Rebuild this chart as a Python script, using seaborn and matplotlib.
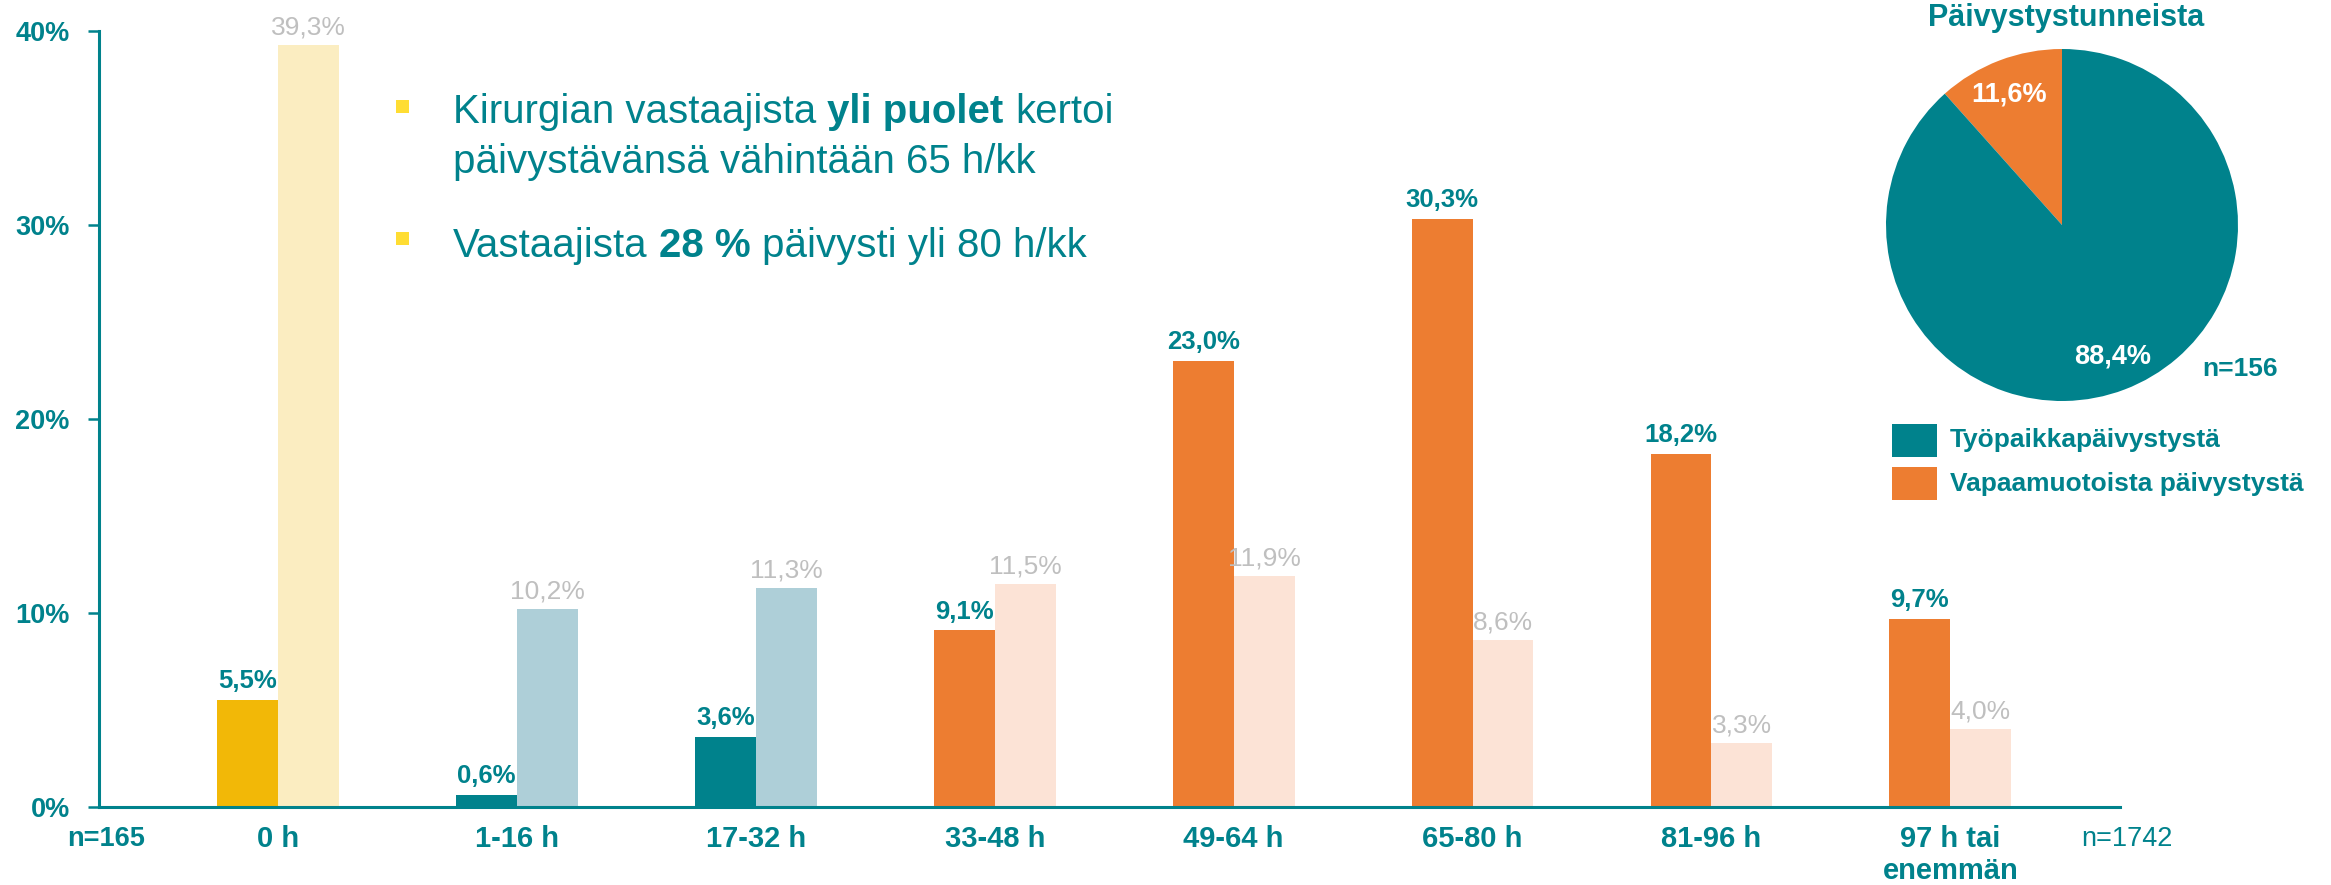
import matplotlib
matplotlib.use("Agg")
import matplotlib.pyplot as plt
import seaborn as sns
import pandas as pd
from matplotlib.patches import Rectangle

# ---------------- data ----------------
categories = ["0 h", "1-16 h", "17-32 h", "33-48 h", "49-64 h", "65-80 h", "81-96 h", "97 h tai\nenemmän"]
kirurgia = [5.5, 0.6, 3.6, 9.1, 23.0, 30.3, 18.2, 9.7]
muut = [39.3, 10.2, 11.3, 11.5, 11.9, 8.6, 3.3, 4.0]
series_names = ["Kirurgia", "Muut"]
yticks = [0, 10, 20, 30, 40]
ytick_labels = ["0%", "10%", "20%", "30%", "40%"]
pie_labels = ["Vapaamuotoista päivystystä", "Työpaikkapäivystystä"]
pie_values = [11.6, 88.4]
pie_title = "Päivystystunneista"
n_left = "n=165"
n_right = "n=1742"
n_pie = "n=156"

# ---------------- style ----------------
TEAL = "#00828C"
ORANGE = "#ED7D31"
YELLOW = "#F2B807"
LYELLOW = "#FBEDC1"
LBLUE = "#AECFD8"
PEACH = "#FCE3D6"
GRAY = "#BFBFBF"
BULLET = "#FFDD33"
dark_colors = [YELLOW, TEAL, TEAL] + [ORANGE] * 5
light_colors = [LYELLOW, LBLUE, LBLUE] + [PEACH] * 5

sns.set_theme(style="white")
plt.rcParams["font.family"] = ["Liberation Sans", "DejaVu Sans"]

W, H = 2331, 885
fig = plt.figure(figsize=(W / 100, H / 100), dpi=100)

# ---------------- bar chart ----------------
ax = fig.add_axes([99 / W, 1 - 807 / H, (2120 - 99) / W, (807 - 31) / H])
df = pd.DataFrame({
    "cat": categories * 2,
    "val": kirurgia + muut,
    "series": [series_names[0]] * len(categories) + [series_names[1]] * len(categories),
})
sns.barplot(data=df, x="cat", y="val", hue="series", hue_order=series_names,
            order=categories, width=0.51, ax=ax, legend=False,
            linewidth=0, saturation=1, errorbar=None)

for bar, c in zip(ax.containers[0], dark_colors):
    bar.set_facecolor(c)
for bar, c in zip(ax.containers[1], light_colors):
    bar.set_facecolor(c)

def fmt(v):
    return f"{v:.1f}%".replace(".", ",")

for bar, v in zip(ax.containers[0], kirurgia):
    ax.annotate(fmt(v), (bar.get_x() + bar.get_width() / 2, bar.get_height()),
                xytext=(0, 5), textcoords="offset points", ha="center", va="bottom",
                fontsize=18.5, fontweight="bold", color=TEAL, annotation_clip=False)
for bar, v in zip(ax.containers[1], muut):
    ax.annotate(fmt(v), (bar.get_x() + bar.get_width() / 2, bar.get_height()),
                xytext=(0, 4), textcoords="offset points", ha="center", va="bottom",
                fontsize=19, color=GRAY, annotation_clip=False)

ax.set_xlim(-0.749, 7.71)
ax.set_ylim(0, 40)
ax.set_yticks(yticks)
ax.set_yticklabels(ytick_labels)
ax.set_xlabel("")
ax.set_ylabel("")
for s in ["top", "right"]:
    ax.spines[s].set_visible(False)
for s in ["left", "bottom"]:
    ax.spines[s].set_color(TEAL)
    ax.spines[s].set_linewidth(2.2)
ax.tick_params(axis="y", direction="out", length=8, width=1.8, color=TEAL, pad=13,
               labelsize=19.5, labelcolor=TEAL, left=True)
ax.tick_params(axis="x", length=0, pad=13, labelsize=21, labelcolor=TEAL)
for lab in ax.get_yticklabels() + ax.get_xticklabels():
    lab.set_fontweight("bold")
for lab in ax.get_xticklabels():
    lab.set_linespacing(1.2)
ax.grid(False)

ax.text(-0.72, -0.025, n_left, transform=ax.get_xaxis_transform(), ha="center", va="top",
        fontsize=19.5, fontweight="bold", color=TEAL)
ax.text(7.74, -0.025, n_right, transform=ax.get_xaxis_transform(), ha="center", va="top",
        fontsize=19.5, color=TEAL)

# ---------------- bullet text ----------------
renderer = fig.canvas.get_renderer()
BFS = 29

def text_width(s, weight):
    t = fig.text(0, 0, s, fontsize=BFS, fontweight=weight)
    w = t.get_window_extent(renderer).width
    t.remove()
    return w

space_w = text_width("x x", "normal") - text_width("xx", "normal")

def draw_runs(x_px, y_px, runs):
    x = x_px
    for s, weight in runs:
        t = fig.text(x / W, 1 - y_px / H, s, fontsize=BFS, fontweight=weight,
                     color=TEAL, va="baseline", ha="left")
        x += t.get_window_extent(renderer).width + space_w

draw_runs(453, 123, [("Kirurgian vastaajista", "normal"), ("yli puolet", "bold"), ("kertoi", "normal")])
draw_runs(453, 173, [("päivystävänsä vähintään 65 h/kk", "normal")])
draw_runs(453, 257, [("Vastaajista", "normal"), ("28 %", "bold"), ("päivysti yli 80 h/kk", "normal")])
for yc in [106.5, 238]:
    fig.patches.append(Rectangle((396 / W, 1 - (yc + 6.5) / H), 13 / W, 13 / H,
                                 transform=fig.transFigure, facecolor=BULLET, edgecolor="none"))

# ---------------- pie ----------------
cx, cy, r = 2062, 225, 176
pax = fig.add_axes([(cx - r) / W, 1 - (cy + r) / H, 2 * r / W, 2 * r / H])
pax.pie(pie_values, colors=[ORANGE, TEAL], startangle=90, counterclock=True,
        wedgeprops=dict(linewidth=0))
pax.set_xlim(-1, 1)
pax.set_ylim(-1, 1)
pax.set_aspect("equal")
pax.axis("off")
pax.text(-0.30, 0.74, fmt(pie_values[0]), ha="center", va="center", fontsize=19.5,
         fontweight="bold", color="white")
pax.text(0.29, -0.75, fmt(pie_values[1]), ha="center", va="center", fontsize=19.5,
         fontweight="bold", color="white")
pax.text(1.01, -0.82, n_pie, ha="center", va="center", fontsize=19,
         fontweight="bold", color=TEAL, clip_on=False)

fig.text(2066 / W, 1 - 18 / H, pie_title, ha="center", va="center", fontsize=22,
         fontweight="bold", color=TEAL)

# legend
for (y0, y1), lab, col in zip([(424, 457), (467, 500)], [pie_labels[1], pie_labels[0]], [TEAL, ORANGE]):
    fig.patches.append(Rectangle((1892 / W, 1 - y1 / H), 45 / W, (y1 - y0) / H,
                                 transform=fig.transFigure, facecolor=col, edgecolor="none"))
    fig.text(1950 / W, 1 - ((y0 + y1) / 2) / H, lab, ha="left", va="center",
             fontsize=19, fontweight="bold", color=TEAL)

fig.savefig("out.png", dpi=100, facecolor="white")
